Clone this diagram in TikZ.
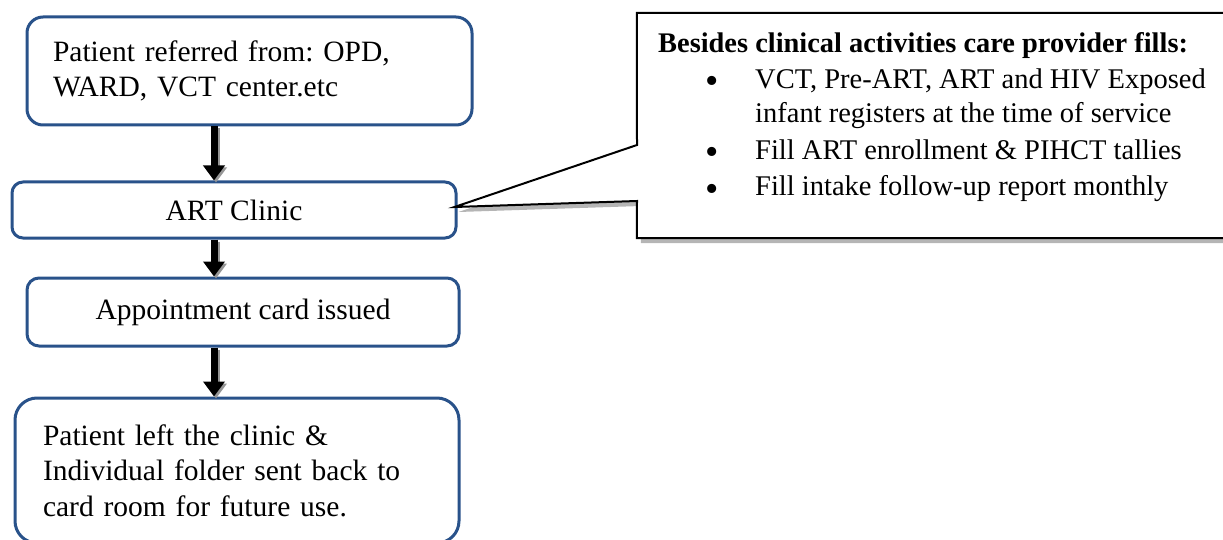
\documentclass[tikz,border=0pt]{standalone}
\usepackage{fontspec}
\setmainfont{Liberation Serif}
\usetikzlibrary{arrows.meta,calc}
\definecolor{boxblue}{RGB}{41,82,138}
\definecolor{shadowgray}{RGB}{150,150,150}
\frenchspacing
\tikzset{
  flowbox/.style={draw=boxblue, line width=3pt, fill=white, inner sep=0pt,
    font=\fontsize{29.5}{35.5}\selectfont},
  blockarrow/.style={draw=black, line width=7pt,
    -{Triangle[width=21pt,length=15pt]}},
  arrowshadow/.style={draw=shadowgray, line width=7pt,
    -{Triangle[width=21pt,length=15pt]}, transform canvas={shift={(2pt,-2pt)}}},
  calloutline/.style={draw=black, line width=2pt, fill=white, line join=miter},
  calloutshadow/.style={fill=shadowgray!70, draw=none, transform canvas={shift={(4pt,-5pt)}}},
  titletext/.style={anchor=base west, inner sep=0pt, font=\fontsize{28.4}{34}\selectfont\bfseries},
  bodytext/.style={anchor=base west, inner sep=0pt, font=\fontsize{28.5}{34}\selectfont},
  bullettext/.style={anchor=base, inner sep=0pt, font=\fontsize{38}{34}\selectfont},
}
\begin{document}
\begin{tikzpicture}[x=1pt,y=-1pt]
\useasboundingbox (0,0) rectangle (1223,540);

% flow boxes
\node[flowbox, rounded corners=16pt, minimum width=445pt, minimum height=108pt,
  text width=393pt, align=left] (b1) at (249.5,71)
  {Patient referred from: OPD,\\WARD, VCT center.etc};
\node[flowbox, rounded corners=11pt, minimum width=444pt, minimum height=56pt] (b2) at (234,210)
  {ART Clinic};
\node[flowbox, rounded corners=12pt, minimum width=432pt, minimum height=68pt] (b3) at (243,312)
  {Appointment card issued};
\node[flowbox, rounded corners=22pt, minimum width=444pt, minimum height=145pt,
  text width=388pt, align=left] (b4) at (237,470.5)
  {Patient left the clinic \&\\Individual folder sent back to\\card room for future use.};

% arrows
\coordinate (ax) at (214,0);
\foreach \a/\b in {b1/b2, b2/b3, b3/b4}{
  \draw[arrowshadow] (\a.south -| ax) -- (\b.north -| ax);
  \draw[blockarrow] (\a.south -| ax) -- (\b.north -| ax);
}

% callout
\node[minimum width=589pt, minimum height=225pt, inner sep=0pt] (call) at (931.5,125.5) {};
\coordinate (cu) at (637,145);
\coordinate (cl) at (637,201);
\coordinate (ptip) at ($(b2.east)+(-3,-3)$);
\path[calloutshadow] (call.north west) -- (call.north east) -- (call.south east)
  -- (call.south west) -- (cl) -- (ptip) -- (cu) -- cycle;
\path[calloutline] (call.north west) -- (call.north east) -- (call.south east)
  -- (call.south west) -- (cl) -- (ptip) -- (cu) -- cycle;

\node[titletext] (t0) at (658,53) {Besides clinical activities care provider fills:};
\node[bullettext] (u1) at (712,94) {\textbullet};
\node[bodytext] (t1) at (755,89) {VCT, Pre-ART, ART and HIV Exposed};
\node[bodytext] (t2) at (755,123) {infant registers at the time of service};
\node[bullettext] (u2) at (712,165) {\textbullet};
\node[bodytext] (t3) at (755,160) {Fill ART enrollment \& PIHCT tallies};
\node[bullettext] (u3) at (712,201) {\textbullet};
\node[bodytext] (t4) at (755,196) {Fill intake follow-up report monthly};
\end{tikzpicture}
\end{document}
